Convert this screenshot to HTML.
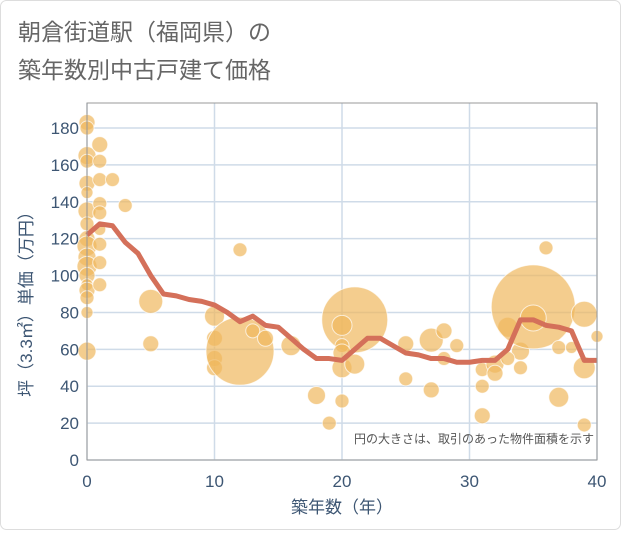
<!DOCTYPE html>
<html><head><meta charset="utf-8"><style>
body{margin:0;background:#fff;}
svg text{font-family:"Liberation Sans","Noto Sans CJK JP",sans-serif;}
</style></head><body>
<svg id="chart" width="621" height="530" xmlns="http://www.w3.org/2000/svg">
<rect x="0.5" y="0.5" width="620" height="529" rx="6" fill="#fff" stroke="#ddd"/>
<text x="18" y="40" font-size="23" fill="#666">朝倉街道駅（福岡県）の</text>
<text x="18" y="78" font-size="23" fill="#666">築年数別中古戸建て価格</text>
<g id="grid"></g><g id="bubbles"></g><g id="line"></g><g id="axes"></g>
<text x="594" y="443" font-size="12" fill="#555" text-anchor="end">円の大きさは、取引のあった物件面積を示す</text>
<text x="342" y="513" font-size="17" fill="#3d5673" text-anchor="middle">築年数（年）</text>
<text transform="translate(32,300) rotate(-90)" font-size="17" fill="#3d5673" text-anchor="middle">坪（3.3㎡）単価（万円）</text>
</svg>
<script>
const xTicks=[0,10,20,30,40];
const yTicks=[0,20,40,60,80,100,120,140,160,180];
const lineYears=[0,1,2,3,4,5,6,7,8,9,10,11,12,13,14,15,16,17,18,19,20,21,22,23,24,25,26,27,28,29,30,31,32,33,34,35,36,37,38,39,40];
const lineValues=[122,128,127,118,112,100,90,89,87,86,84,80,75,78,73,72,66,60,55,55,54,60,66,66,62,58,57,55,55,53,53,54,54,60,76,76,73,72,70,54,54];
const bubbleYears=[0,0,0,0,0,0,0,0,0,0,0,0,0,0,0,0,0,0,1,1,1,1,1,1,1,1,1,2,3,5,5,12,10,10,10,10,12,13,14,16,18,19,20,21,20,20,20,20,21,25,25,27,28,28,29,27,31,31,31,32,32,33,34,34,35,35,36,37,37,38,39,39,39,40,33];
const bubbleValues=[183,180,165,162,150,145,135,128,120,116,110,105,100,95,92,88,80,59,171,162,152,139,134,125,117,107,95,152,138,86,63,114,78,66,55,50,59,70,66,62,35,20,32,76,73,62,50,58,52,63,44,65,70,55,62,38,49,40,24,52,47,72,59,50,83,77,115,61,34,61,79,50,19,67,55];
const bubbleSizes=[8,7,9,7,8,6,9,7,8,10,9,10,8,6,8,7,6,9,8,7,7,7,7,6,7,7,7,7,7,12,8,7,10,8,8,8,34,7,8,10,9,7,7,33,10,7,10,9,10,8,7,12,8,7,7,8,7,7,8,9,8,10,9,7,42,13,7,7,10,6,13,11,7,6,7];
const X0=87,X1=597,Y0=460,YT=103;
const sx=v=>X0+(X1-X0)*v/40;
const sy=v=>Y0-(460-128)*v/180;
const NS="http://www.w3.org/2000/svg";
function mk(tag,attrs,parent){const e=document.createElementNS(NS,tag);for(const k in attrs)e.setAttribute(k,attrs[k]);document.getElementById(parent).appendChild(e);return e;}
yTicks.forEach(t=>{
 const g=mk('line',{x1:X0,x2:X1,y1:sy(t),y2:sy(t),stroke:'#cfdbe8','stroke-width':1.5},'grid');
 
 
 const l=mk('text',{x:X0-8,y:sy(t)+6,'font-size':17,fill:'#3d5673','text-anchor':'end'},'axes');
 l.textContent=t;
 
 
});
xTicks.forEach(t=>{
 const g=mk('line',{x1:sx(t),x2:sx(t),y1:YT,y2:Y0,stroke:'#cfdbe8','stroke-width':1.5},'grid');
 
 
 const l=mk('text',{x:sx(t),y:Y0+27,'font-size':17,fill:'#3d5673','text-anchor':'middle'},'axes');
 l.textContent=t;
 
 
});
const fr=mk('rect',{x:X0,y:YT,width:X1-X0,height:Y0-YT,fill:'none',stroke:'#999','stroke-width':1},'axes');


bubbleYears.forEach((yr,i)=>{
 const c=mk('circle',{cx:sx(yr),cy:sy(bubbleValues[i]),r:bubbleSizes[i],fill:'#f0b85e','fill-opacity':0.7,stroke:'#fff','stroke-opacity':0.7,'stroke-width':1},'bubbles');
 
 
});
const pts=lineYears.map((yr,i)=>sx(yr)+','+sy(lineValues[i])).join(' ');
const pl=mk('polyline',{points:pts,fill:'none',stroke:'#d4705a','stroke-width':5,'stroke-linejoin':'round'},'line');


</script>
</body></html>
